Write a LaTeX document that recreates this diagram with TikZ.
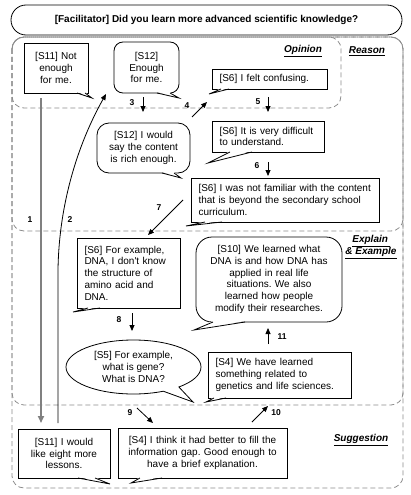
\documentclass[tikz,border=0pt]{standalone}
\usepackage{fontspec}
\newfontfamily\arial{Liberation Sans}
\usetikzlibrary{calc,arrows.meta,shapes.callouts,shapes.geometric}
\frenchspacing
\newcommand{\calltail}[3]{%
  \fill[white] ($(#1)+(0,-1)$) -- (#3) -- ($(#2)+(0,-1)$) -- cycle;
  \draw[line width=0.8pt, line join=miter] (#1) -- (#3) -- (#2);}
\begin{document}
\frenchspacing
\begin{tikzpicture}[x=1pt,y=-1pt,
  region/.style={draw=black!45, dash pattern=on 5pt off 3pt, line width=0.8pt, rounded corners=12pt},
  box/.style={draw, line width=0.8pt, fill=white, font=\arial\frenchspacing\fontsize{10}{11.7}\selectfont, inner ysep=0pt, outer sep=0pt},
  lbox/.style={box, align=left, inner xsep=7.5pt},
  cbox/.style={box, align=center, inner xsep=2pt},
  tag/.style={font=\arial\bfseries\itshape\fontsize{10}{12}\selectfont, align=center, inner sep=0pt},
  num/.style={font=\arial\bfseries\fontsize{8.5}{10}\selectfont, inner sep=0pt},
  arr/.style={-{Triangle[length=6pt,width=5pt]}, line width=0.8pt},
  grayarr/.style={-{Triangle[length=7pt,width=6pt]}, line width=1.6pt, draw=black!50, color=black!50},
]
\useasboundingbox (0,0) rectangle (410,495);

% regions
\draw[region] (12,37) rectangle (403,488);
\draw[region] (12,37) rectangle (403,405);
\draw[region] (12,37) rectangle (403,231);
\draw[region] (12,37) rectangle (341,108);

\node[tag] (lopinion) at (303,51) {\underline{Opinion}};
\node[tag] (lreason) at (367,51) {\underline{Reason}};
\node[tag] (lexplain) at (371,247) {\underline{Explain\,}\\\underline{\& Example}};
\node[tag] (lsugg) at (361,440) {\underline{Suggestion}};

% title
\node[draw, line width=0.8pt, rounded corners=15pt, minimum width=391pt, minimum height=30pt,
      inner sep=0pt, font=\arial\bfseries\fontsize{10}{12}\selectfont] (fac) at (206.5,20)
  {[Facilitator] Did you learn more advanced scientific knowledge?};

% connectors (free ends as named coordinates)
\coordinate (c1s) at (41,98);  \coordinate (c1e) at (41,423);
\coordinate (c2s) at (58,423); \coordinate (c2m) at (58,270); \coordinate (c2e) at (106,94);
\coordinate (c3s) at (143,97); \coordinate (c3e) at (143,112);
\coordinate (c4s) at (192,117); \coordinate (c4e) at (207,102);
\coordinate (c5s) at (268,97); \coordinate (c5e) at (268,112);
\coordinate (c6s) at (268,162); \coordinate (c6e) at (268,176);
\coordinate (c7s) at (183,200); \coordinate (c7e) at (148,235);
\coordinate (c8s) at (132,313); \coordinate (c8e) at (132,331);
\coordinate (c9s) at (137,408); \coordinate (c9e) at (153,423);
\coordinate (c10s) at (252,422); \coordinate (c10e) at (268,406);
\coordinate (c11s) at (268,344); \coordinate (c11e) at (268,328);

\draw[grayarr] (c1s) -- (c1e);
\draw[arr] (c2s) -- (c2m) .. controls (59,200) and (80,140) .. (c2e);
\draw[arr] (c3s) -- (c3e);
\draw[arr] (c4s) -- (c4e);
\draw[arr] (c5s) -- (c5e);
\draw[arr] (c6s) -- (c6e);
\draw[arr] (c7s) -- (c7e);
\draw[arr] (c8s) -- (c8e);
\draw[arr] (c9s) -- (c9e);
\draw[arr] (c10s) -- (c10e);
\draw[arr] (c11s) -- (c11e);

\node[num] (n1) at (30,220) {1};
\node[num] (n2) at (70,220) {2};
\node[num] (n3) at (132,103) {3};
\node[num] (n4) at (187,106) {4};
\node[num] (n5) at (258,102) {5};
\node[num] (n6) at (257,166) {6};
\node[num] (n7) at (159,208) {7};
\node[num] (n8) at (119,320) {8};
\node[num] (n9) at (130,413) {9};
\node[num] (n10) at (276,413) {10};
\node[num] (n11) at (282,337) {11};

% statement nodes
\node[cbox, text width=60pt, minimum height=50pt] (s11a) at (56,68) {[S11] Not\\enough\\for me.};
\node[cbox, rounded corners=9pt, text width=61pt, minimum height=51pt] (s12a) at (146.5,67.5) {[S12]\\Enough\\for me.};
\node[lbox, text width=100pt, minimum height=20pt] (s6a) at (269.5,79) {[S6] I felt confusing.};
\node[cbox, rounded corners=12pt, text width=89pt, minimum height=50pt] (s12b) at (143.5,148) {[S12] I would\\say the content\\is rich enough.};
\node[lbox, text width=97pt, minimum height=31pt] (s6b) at (268,136.5) {[S6] It is very difficult\\to understand.};
\node[lbox, text width=173pt, minimum height=44pt] (s6c) at (285,200) {[S6] I was not familiar with the content\\that is beyond the secondary school\\curriculum.};
\node[lbox, text width=88pt, minimum height=70pt] (s6d) at (128.5,273) {[S6] For example,\\DNA, I don't know\\the structure of\\amino acid and\\DNA.};
\node[cbox, rounded corners=16pt, text width=142pt, minimum height=85pt] (s10) at (269,279.5) {[S10] We learned what\\DNA is and how DNA has\\applied in real life\\situations. We also\\learned how people\\modify their researches.};
\node[box, ellipse callout, align=center, inner sep=0pt, minimum width=135pt, minimum height=54pt,
      callout absolute pointer={(193,402)}, callout pointer arc=16] (s5) at (133.5,367) {[S5] For example,\\what is gene?\\What is DNA?};
\node[lbox, text width=128pt, minimum height=46pt] (s4a) at (279.5,375) {[S4] We have learned\\something related to\\genetics and life sciences.};
\node[cbox, text width=88pt, minimum height=49pt] (s11b) at (64,453.5) {[S11] I would\\like eight more\\lessons.};
\node[cbox, text width=165pt, minimum height=50pt] (s4b) at (202.5,453) {[S4] I think it had better to fill the\\information gap. Good enough to\\have a brief explanation.};

% callout tails
\coordinate (t1a) at ($(s11a.south west)+(53,0)$); \coordinate (t1b) at ($(s11a.south west)+(61,0)$); \coordinate (t1c) at (92,98);
\calltail{t1a}{t1b}{t1c}
\coordinate (t2a) at ($(s12a.south west)+(43,0)$); \coordinate (t2b) at ($(s12a.south west)+(56,0)$); \coordinate (t2c) at (179,98);
\calltail{t2a}{t2b}{t2c}
\coordinate (t3a) at ($(s6a.south west)+(9,0)$); \coordinate (t3b) at ($(s6a.south west)+(17,0)$); \coordinate (t3c) at (209,94);
\calltail{t3a}{t3b}{t3c}
\coordinate (t4a) at ($(s12b.south west)+(65,0)$); \coordinate (t4b) at ($(s12b.south west)+(77,0)$); \coordinate (t4c) at (181,178);
\calltail{t4a}{t4b}{t4c}
\coordinate (t5a) at ($(s6b.south west)+(18,0)$); \coordinate (t5b) at ($(s6b.south west)+(40,0)$); \coordinate (t5c) at (208,163);
\calltail{t5a}{t5b}{t5c}
\coordinate (t6a) at ($(s6c.south west)+(14,0)$); \coordinate (t6b) at ($(s6c.south west)+(31,0)$); \coordinate (t6c) at (186,226);
\calltail{t6a}{t6b}{t6c}
\coordinate (t7a) at ($(s6d.south west)+(11,0)$); \coordinate (t7b) at ($(s6d.south west)+(23,0)$); \coordinate (t7c) at (73,312);
\calltail{t7a}{t7b}{t7c}
\coordinate (t8a) at ($(s10.south west)+(17,0)$); \coordinate (t8b) at ($(s10.south west)+(49,0)$); \coordinate (t8c) at (194,330);
\calltail{t8a}{t8b}{t8c}
\coordinate (t9a) at ($(s4a.south west)+(6,0)$); \coordinate (t9b) at ($(s4a.south west)+(18,0)$); \coordinate (t9c) at (206,402);
\calltail{t9a}{t9b}{t9c}
\coordinate (t10a) at ($(s11b.south west)+(60,0)$); \coordinate (t10b) at ($(s11b.south west)+(77,0)$); \coordinate (t10c) at (110,484);
\calltail{t10a}{t10b}{t10c}
\coordinate (t11a) at ($(s4b.south west)+(22,0)$); \coordinate (t11b) at ($(s4b.south west)+(44,0)$); \coordinate (t11c) at (131,483);
\calltail{t11a}{t11b}{t11c}
\end{tikzpicture}
\end{document}
